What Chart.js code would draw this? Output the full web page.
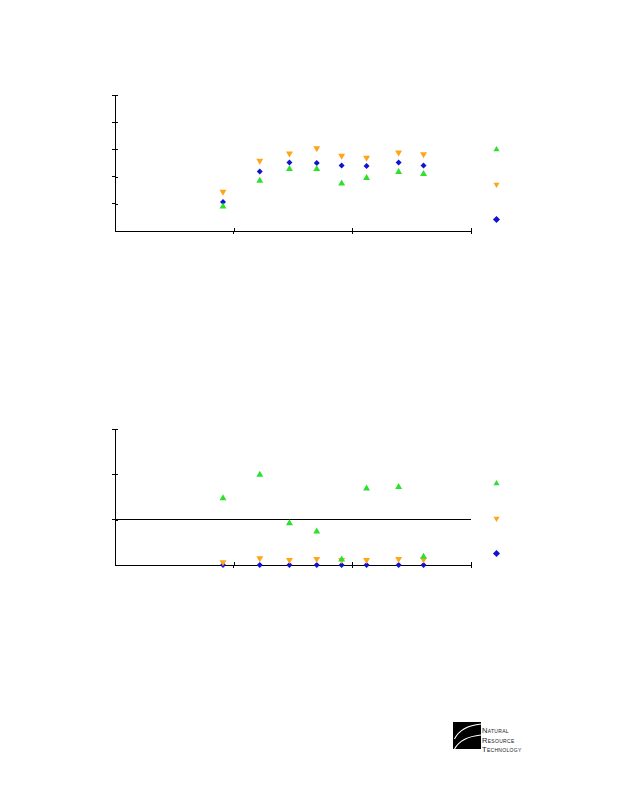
<!DOCTYPE html>
<html>
<head>
<meta charset="utf-8">
<script src="https://cdn.jsdelivr.net/npm/chart.js@4.4.1/dist/chart.umd.min.js"></script>
<style>
  body { margin: 0; background: #fff; width: 618px; height: 800px; position: relative; overflow: hidden; }
  .wrap { position: absolute; }
  #logo { position: absolute; left: 453px; top: 722px; }
  #logo svg { position: absolute; left: 0; top: 0; }
  #logo .name {
    position: absolute; left: 29px; top: 4px; width: 70px; white-space: nowrap;
    font-family: "Liberation Sans", sans-serif; font-variant: small-caps;
    font-size: 7.5px; line-height: 9.6px; color: #222; letter-spacing: 0.3px;
  }
</style>
</head>
<body>
<div class="wrap" style="left:100px;top:85px;width:430px;height:189px"><canvas id="chart1"></canvas></div>
<div class="wrap" style="left:100px;top:420px;width:430px;height:188px"><canvas id="chart2"></canvas></div>

<div id="logo">
  <svg width="29" height="28" viewBox="0 0 29 28">
    <rect x="0" y="0" width="28" height="27" fill="#000"/>
    <path d="M1.5 17 Q8 4 28 2" stroke="#fff" stroke-width="1.1" fill="none"/>
    <path d="M1.5 27 Q8 15 28 13" stroke="#fff" stroke-width="1.1" fill="none"/>
  </svg>
  <div class="name">Natural<br>Resource<br>Technology</div>
</div>

<script>
// sampling positions (same for both panels)
const xValues = [0.91, 1.22, 1.47, 1.70, 1.91, 2.12, 2.39, 2.60];

// upper panel
const topGreen  = [0.90, 1.85, 2.28, 2.28, 1.75, 1.95, 2.17, 2.10];
const topOrange = [1.44, 2.58, 2.85, 3.04, 2.77, 2.69, 2.89, 2.82];
const topBlue   = [1.07, 2.19, 2.52, 2.50, 2.41, 2.39, 2.52, 2.41];

// lower panel
const lowGreen  = [1.47, 1.99, 0.92, 0.74, 0.12, 1.69, 1.72, 0.18];
const lowOrange = [0.06, 0.15, 0.11, 0.13, 0.11, 0.11, 0.13, 0.12];
const lowBlue   = [0, 0, 0, 0, 0, 0, 0, 0];

const xTicks = [0, 1, 2, 3];
const topYMax = 5;
const lowYMax = 3;
const refLine = 1;

const GREEN = "#2ee02e";
const ORANGE = "#ffa51a";
const BLUE = "#1212d2";

function pts(ys) {
  return ys.map((y, i) => ({ x: xValues[i], y: y }));
}

function series(ys, color, style, rot, r) {
  return {
    data: pts(ys),
    backgroundColor: color,
    borderColor: color,
    borderWidth: 0,
    pointStyle: style,
    pointRotation: rot,
    pointRadius: r,
    pointHoverRadius: r,
    clip: false,
  };
}

// small tick stubs on the inner side of the axes
const innerTicks = {
  id: "innerTicks",
  afterDraw(chart) {
    const { ctx, chartArea, scales } = chart;
    ctx.save();
    ctx.strokeStyle = "#000";
    ctx.lineWidth = 1;
    ctx.beginPath();
    scales.x.ticks.forEach((t) => {
      if (t.value === 0) return;
      const px = Math.round(scales.x.getPixelForValue(t.value)) + 0.5;
      ctx.moveTo(px, chartArea.bottom);
      ctx.lineTo(px, chartArea.bottom - 3);
    });
    scales.y.ticks.forEach((t) => {
      if (t.value === 0) return;
      const py = Math.round(scales.y.getPixelForValue(t.value)) + 0.5;
      ctx.moveTo(chartArea.left, py);
      ctx.lineTo(chartArea.left + 3, py);
    });
    ctx.stroke();
    ctx.restore();
  },
};

function makeChart(id, green, orange, blue, yMax, padTop, lineAt) {
  const ctx = document.getElementById(id);
  new Chart(ctx, {
    type: "scatter",
    data: {
      datasets: [
        series(green, GREEN, "triangle", 0, 4),
        series(orange, ORANGE, "triangle", 180, 4),
        series(blue, BLUE, "rectRot", 0, 3),
      ],
    },
    options: {
      responsive: true,
      maintainAspectRatio: false,
      animation: false,
      events: [],
      layout: { padding: { left: 12, right: 15, top: padTop, bottom: 0 } },
      plugins: {
        tooltip: { enabled: false },
        legend: {
          position: "right",
          labels: {
            usePointStyle: true,
            boxWidth: 5,
            boxHeight: 5,
            padding: 23,
            font: { size: 12 },
            generateLabels: (chart) =>
              Chart.defaults.plugins.legend.labels
                .generateLabels(chart)
                .map((l) => ({ ...l, text: "" })),
          },
        },
      },
      scales: {
        x: {
          type: "linear",
          min: xTicks[0],
          max: xTicks[xTicks.length - 1],
          afterBuildTicks: (s) => { s.ticks = xTicks.map((v) => ({ value: v })); },
          ticks: { display: false },
          grid: {
            drawOnChartArea: false,
            tickLength: 3,
            tickColor: (c) => (c.tick && c.tick.value === 0 ? "rgba(0,0,0,0)" : "#000"),
          },
          border: { color: "#000", width: 1 },
          title: { display: true, text: "", font: { size: 10, lineHeight: 1 }, padding: { top: 30, bottom: 0 } },
        },
        y: {
          min: 0,
          max: yMax,
          ticks: { display: false, stepSize: 1 },
          grid: {
            drawOnChartArea: lineAt !== null,
            tickLength: 3,
            color: (c) => (lineAt !== null && c.tick && c.tick.value === lineAt ? "#000" : "rgba(0,0,0,0)"),
            tickColor: (c) => (c.tick && c.tick.value === 0 ? "rgba(0,0,0,0)" : "#000"),
          },
          border: { color: "#000", width: 1 },
        },
      },
    },
    plugins: [innerTicks],
  });
}

makeChart("chart1", topGreen, topOrange, topBlue, topYMax, 10, null);
makeChart("chart2", lowGreen, lowOrange, lowBlue, lowYMax, 9, refLine);
</script>
</body>
</html>
